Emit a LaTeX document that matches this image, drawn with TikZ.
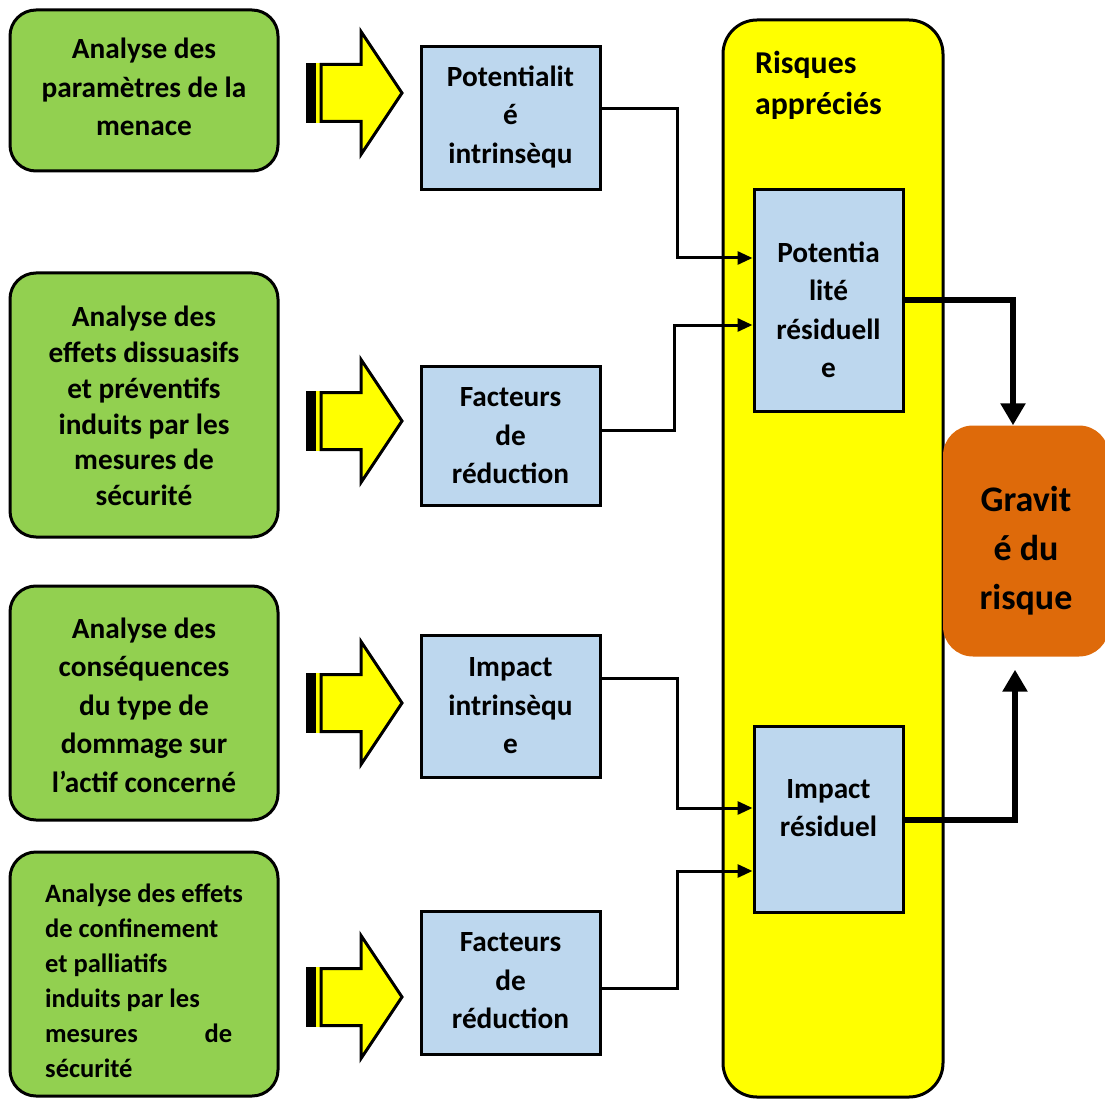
\documentclass[tikz,border=0pt]{standalone}
\usepackage{fontspec}
\setmainfont{Carlito}
\usetikzlibrary{arrows.meta}
\definecolor{greenbox}{HTML}{92D050}
\definecolor{bluebox}{HTML}{BDD7EE}
\definecolor{yellowbox}{HTML}{FFFF00}
\definecolor{orangebox}{HTML}{DE6A0A}
\newcommand\fatarrow[1]{%
  \fill[yellowbox] (314,#1-30) rectangle (321,#1+30);
  \fill[black] (306,#1-30) rectangle (316,#1+30);
  \draw[arrowline] (321,#1-28.5) -- (361,#1-28.5) -- (361,#1-61.5) -- (402,#1)
     -- (361,#1+61.5) -- (361,#1+28.5) -- (321,#1+28.5) -- cycle;
}
\begin{document}
\begin{tikzpicture}[x=1pt,y=-1pt,
  greenstyle/.style={draw=black, line width=3pt, fill=greenbox, rounded corners=26pt,
     minimum width=268pt, inner sep=0pt},
  bluestyle/.style={draw=black, line width=3pt, fill=bluebox, minimum width=179pt, inner sep=0pt},
  rbluestyle/.style={draw=black, line width=3pt, fill=bluebox, minimum width=149pt, inner sep=0pt},
  txt/.style={align=center, inner sep=0pt, font=\fontsize{29.3}{38.5}\selectfont\bfseries},
  smalltxt/.style={align=left, inner sep=0pt, font=\fontsize{26.5}{35}\selectfont\bfseries},
  arrowline/.style={draw=black, line width=3pt, fill=yellowbox, line join=miter},
  conn/.style={draw=black, line width=3pt, -{Triangle[length=15pt,width=13pt]}},
  thickconn/.style={draw=black, line width=6pt, -{Triangle[length=22pt,width=24pt]}},
]
\useasboundingbox (0,0) rectangle (1105,1099);

% big yellow box
\node[draw=black, line width=3pt, fill=yellowbox, rounded corners=34pt,
      minimum width=220pt, minimum height=1077pt, inner sep=0pt] (Y) at (833,558.5) {};
\node[align=left, inner sep=0pt, font=\fontsize{31.8}{41}\selectfont\bfseries, anchor=west] (Ytxt) at (755,85) {Risques\\appréciés};

% orange box
\node[fill=orangebox, rounded corners=30pt, minimum width=166pt, minimum height=231pt, inner sep=0pt] (G) at (1026,541) {};
\node[align=center, inner sep=0pt, font=\fontsize{36}{49}\selectfont\bfseries] (Gtxt) at (1026,551) {Gravit\\é du\\risque};

% green boxes
\node[greenstyle, minimum height=161pt] (A1) at (144,90.5) {};
\node[txt] (A1t) at (144,87) {Analyse des\\paramètres de la\\menace};
\node[greenstyle, minimum height=264pt] (A2) at (144,405) {};
\node[txt, font=\fontsize{29.3}{35.8}\selectfont\bfseries] (A2t) at (144,406) {Analyse des\\effets dissuasifs\\et préventifs\\induits par les\\mesures de\\sécurité};
\node[greenstyle, minimum height=234pt] (A3) at (144,703) {};
\node[txt] (A3t) at (144,705) {Analyse des\\conséquences\\du type de\\dommage sur\\l’actif concerné};
\node[greenstyle, minimum height=244pt] (A4) at (144,974) {};
\node[smalltxt, anchor=west] (A4t) at (45,981) {Analyse des effets\\de confinement\\et palliatifs\\induits par les\\\hbox to 187pt{mesures\hfill de}\\sécurité};

% fat arrows
\fatarrow{93}
\fatarrow{421}
\fatarrow{703}
\fatarrow{997}

% left blue boxes
\node[bluestyle, minimum height=143pt] (B1) at (510.5,118.5) {};
\node[txt] (B1t) at (510.5,117) {Potentialit\\é\\intrinsèqu};
\node[bluestyle, minimum height=139pt] (B2) at (510.5,435.5) {};
\node[txt] (B2t) at (510.5,436) {Facteurs\\de\\réduction};
\node[bluestyle, minimum height=142pt] (B3) at (510.5,706) {};
\node[txt] (B3t) at (510.5,706) {Impact\\intrinsèqu\\e};
\node[bluestyle, minimum height=143pt] (B4) at (510.5,982.5) {};
\node[txt] (B4t) at (510.5,981) {Facteurs\\de\\réduction};

% right blue boxes
\node[rbluestyle, minimum height=221pt] (R1) at (828.5,300.5) {};
\node[txt] (R1t) at (828.5,310) {Potentia\\lité\\résiduell\\e};
\node[rbluestyle, minimum height=186pt] (R2) at (828.5,819) {};
\node[txt] (R2t) at (828.5,808) {Impact\\résiduel};

% connectors
\draw[conn] (B1.east |- 0,109) -| (677,258) -- (R1.west |- 0,258);
\draw[conn] (B2.east |- 0,430) -| (674,325) -- (R1.west |- 0,325);
\draw[conn] (B3.east |- 0,678) -| (677,808) -- (R2.west |- 0,808);
\draw[conn] (B4.east |- 0,988) -| (677,871) -- (R2.west |- 0,871);
\draw[thickconn] (R1.east |- 0,300) -| (1013,0 |- G.north);
\draw[thickconn, shorten >=13pt] (R2.east |- 0,820) -| (1015,0 |- G.south);
\end{tikzpicture}
\end{document}
